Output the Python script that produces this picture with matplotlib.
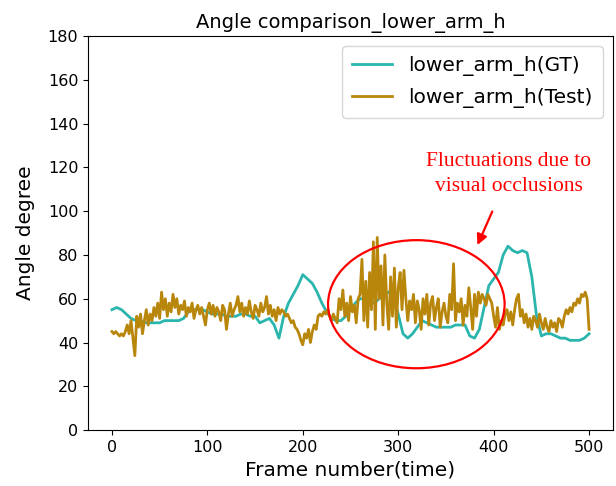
import numpy as np
import matplotlib.pyplot as plt
from matplotlib.patches import Ellipse

# ground truth angle, sampled every 5 frames
gt_frames = np.arange(0, 501, 5)
gt_angle = [55, 56, 55, 53, 51, 50, 50, 49, 49, 49,
            49, 50, 50, 50, 50, 51, 54, 55, 55, 55,
            54, 53, 53, 53, 52, 52, 52, 53, 53, 52,
            52, 49, 50, 51, 48, 42, 52, 58, 62, 66,
            71, 69, 67, 63, 58, 54, 51, 50, 50, 52,
            55, 58, 60, 60, 59, 58, 60, 62, 63, 61,
            53, 44, 42, 44, 47, 50, 49, 48, 47, 47,
            47, 47, 48, 48, 48, 43, 42, 46, 56, 66,
            69, 72, 80, 84, 82, 81, 82, 81, 70, 52,
            43, 44, 44, 43, 42, 42, 41, 41, 41, 42,
            44]

# test angle, sampled every 2 frames
test_frames = np.arange(0, 501, 2)
test_angle = [45, 44, 45, 44, 43, 44, 43, 45, 48, 44,
              50, 42, 34, 52, 47, 53, 44, 50, 55, 48,
              53, 50, 56, 52, 58, 51, 63, 55, 60, 52,
              58, 54, 62, 56, 60, 53, 57, 55, 59, 52,
              56, 54, 58, 51, 55, 57, 53, 56, 52, 48,
              55, 58, 53, 57, 52, 56, 54, 50, 57, 55,
              46, 53, 58, 52, 55, 57, 61, 54, 58, 52,
              56, 53, 59, 54, 51, 57, 55, 52, 58, 54,
              56, 61, 53, 57, 52, 55, 50, 56, 53, 55,
              54, 52, 53, 51, 49, 50, 47, 46, 44, 41,
              39, 44, 42, 46, 40, 45, 48, 46, 52, 53,
              52, 54, 53, 55, 52, 50, 53, 51, 49, 60,
              55, 64, 52, 58, 50, 61, 54, 57, 49, 60,
              62, 78, 50, 68, 47, 72, 55, 86, 46, 88,
              60, 75, 48, 80, 58, 46, 70, 52, 74, 47,
              65, 72, 55, 73, 60, 50, 59, 55, 62, 49,
              59, 55, 46, 60, 53, 62, 48, 58, 61, 50,
              56, 60, 47, 54, 58, 52, 49, 62, 55, 76,
              50, 58, 54, 60, 48, 57, 52, 65, 56, 46,
              62, 52, 63, 58, 62, 60, 57, 62, 60, 58,
              52, 47, 56, 46, 50, 48, 53, 55, 50, 54,
              48, 55, 60, 62, 52, 55, 49, 53, 47, 51,
              46, 52, 50, 47, 53, 49, 46, 51, 47, 45,
              50, 47, 49, 45, 51, 50, 47, 52, 55, 53,
              56, 54, 58, 57, 60, 58, 62, 61, 63, 60,
              46]

fig = plt.figure(figsize=(6.16, 4.86), dpi=100)
ax = fig.add_axes([0.143, 0.115, 0.852, 0.811])

ax.plot(gt_frames, gt_angle, color='#2ab5ad', lw=2, label='lower_arm_h(GT)')
ax.plot(test_frames, test_angle, color='#b8860b', lw=2, label='lower_arm_h(Test)')

# mark the occluded part
ax.add_patch(Ellipse((319, 57.5), 185, 58.5, fill=False, edgecolor='red', lw=1.6, zorder=5))
ax.annotate('Fluctuations due to\nvisual occlusions', xy=(383, 84.5), xytext=(416, 117),
            ha='center', va='center', color='red', fontsize=15.5, family='Liberation Serif',
            linespacing=1.45,
            arrowprops=dict(arrowstyle='-|>', color='red', lw=1.6, shrinkA=10, shrinkB=0))

ax.set_ylim(0, 180)
ax.set_yticks(range(0, 181, 20))
ax.set_xticks(range(0, 501, 100))
ax.tick_params(labelsize=11.5)
ax.set_xlabel('Frame number(time)', fontsize=14.5)
ax.set_ylabel('Angle degree', fontsize=14.5, labelpad=9)
ax.set_title('Angle comparison_lower_arm_h', fontsize=14)
ax.legend(loc='upper right', fontsize=14.5, labelspacing=0.6, borderpad=0.5)

plt.savefig('out.png', dpi=100)
